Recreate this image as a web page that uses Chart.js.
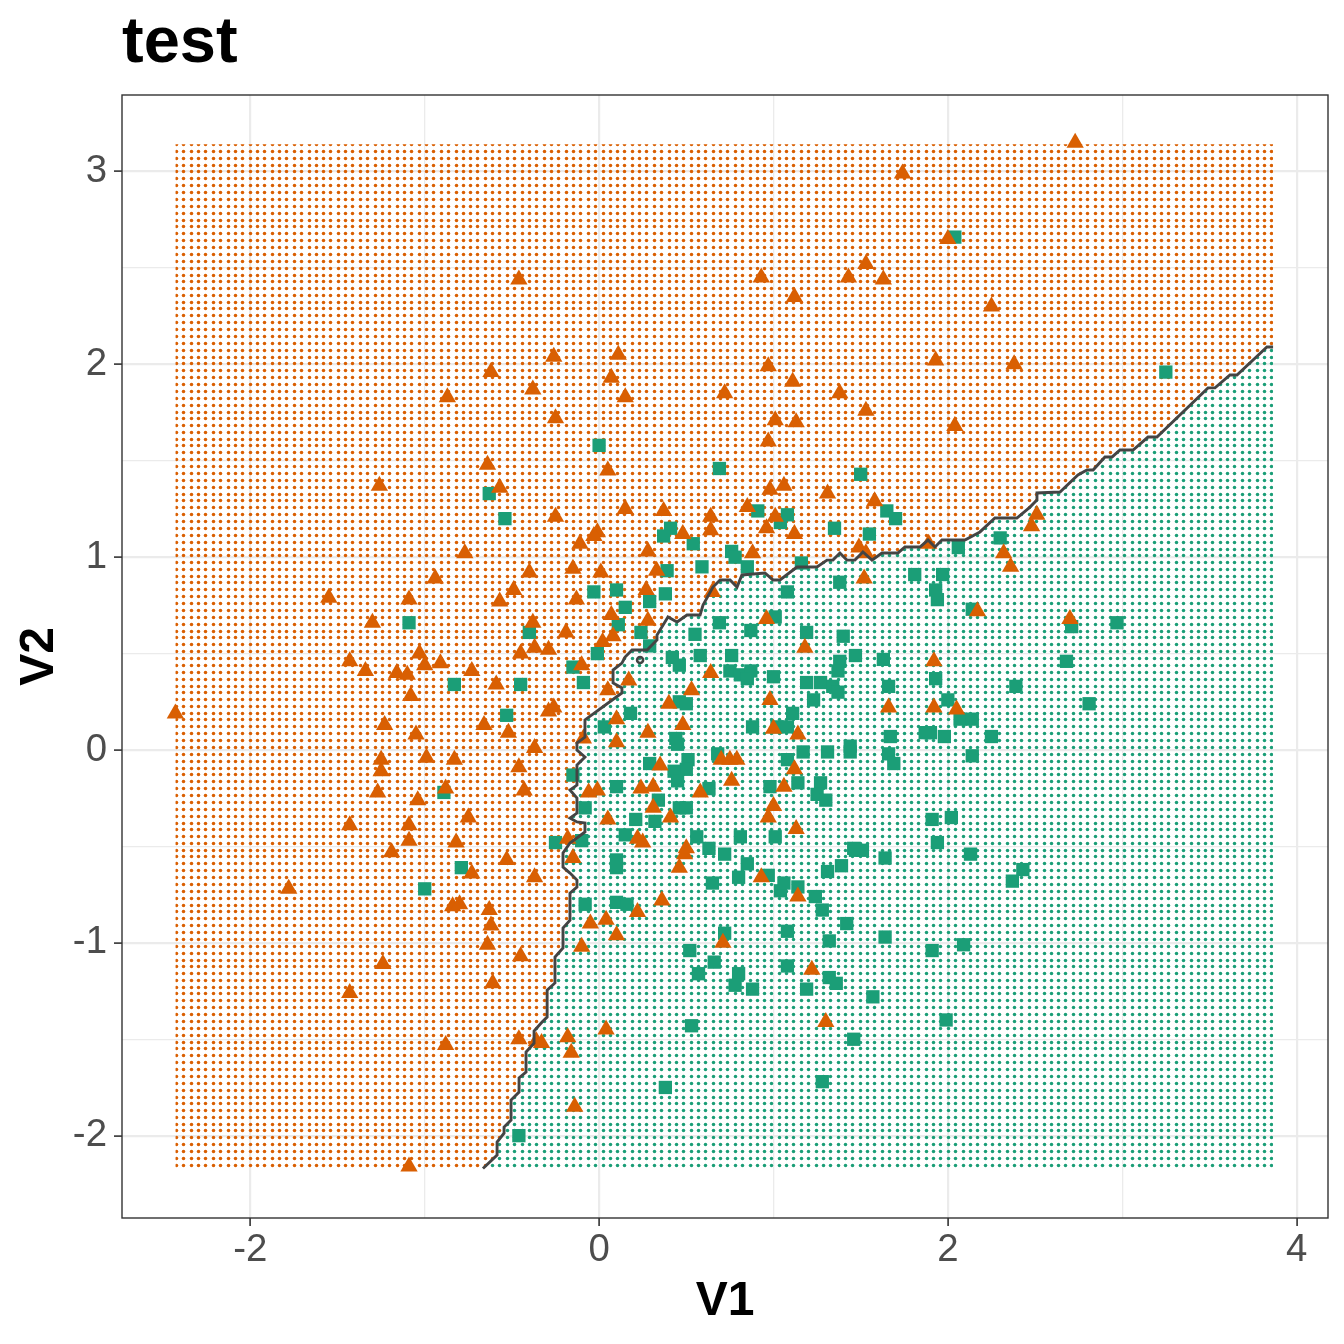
<!DOCTYPE html>
<html>
<head>
<meta charset="utf-8">
<script src="https://cdn.jsdelivr.net/npm/chart.js@4.4.1/dist/chart.umd.min.js"></script>
<style>
  html, body { margin: 0; padding: 0; background: #ffffff; }
  #wrap { width: 1344px; height: 1344px; }
</style>
</head>
<body>
<div id="wrap"><canvas id="plot" width="1344" height="1344"></canvas></div>
<script>
/* globals Chart:false */
(() => {
  'use strict'

  // observations of class 1 (orange triangles), [V1, V2]
  const triangles = [
    [2.73, 3.15], [1.74, 2.99], [2.00, 2.65], [-0.46, 2.44], [0.93, 2.45], [1.53, 2.52],
    [1.43, 2.45], [1.63, 2.44], [1.12, 2.35], [2.25, 2.30], [-0.26, 2.04], [0.11, 2.05],
    [0.07, 1.93], [0.15, 1.83], [0.97, 1.99], [1.11, 1.91], [0.72, 1.85], [1.38, 1.85],
    [1.53, 1.76], [-0.25, 1.72], [1.01, 1.71], [1.13, 1.70], [0.97, 1.60], [1.93, 2.02],
    [0.05, 1.45], [-0.62, 1.96], [-0.87, 1.83], [-0.38, 1.87], [-0.64, 1.48], [2.38, 2.00],
    [2.04, 1.68], [-1.26, 1.37], [-0.57, 1.36], [-0.77, 1.02], [-0.40, 0.92], [-0.94, 0.89],
    [-0.49, 0.83], [-0.57, 0.77], [-1.55, 0.79], [-1.09, 0.78], [-1.30, 0.66], [-0.38, 0.66],
    [-0.37, 0.53], [-0.45, 0.50], [-1.03, 0.50], [-1.43, 0.46], [-1.00, 0.44], [-0.91, 0.45],
    [-1.34, 0.41], [-1.16, 0.40], [-1.10, 0.39], [-0.73, 0.41], [-0.59, 0.34], [-1.08, 0.28],
    [-2.43, 0.19], [-1.23, 0.13], [-0.66, 0.13], [-1.05, 0.08], [-0.52, 0.09], [-0.37, 0.01],
    [-1.25, -0.05], [-1.25, -0.11], [-0.99, -0.04], [-0.83, -0.05], [-0.46, -0.09], [-1.27, -0.22],
    [-0.88, -0.20], [-0.43, -0.21], [-1.04, -0.26], [-0.75, -0.35], [-1.43, -0.39], [-1.09, -0.39],
    [-1.09, -0.47], [-0.82, -0.48], [-1.19, -0.53], [-0.73, -0.64], [-0.53, -0.57], [-0.37, -0.66],
    [-1.78, -0.72], [-0.84, -0.81], [-0.80, -0.80], [-0.63, -0.83], [-0.62, -0.91], [-0.64, -1.01],
    [-0.45, -1.07], [-1.24, -1.11], [-0.61, -1.21], [-1.43, -1.26], [-0.88, -1.53], [-0.46, -1.50],
    [-0.36, -1.51], [-1.09, -2.16], [-0.15, -0.56], [0.49, -0.54], [0.46, -0.61], [0.93, -0.66],
    [1.14, -0.76], [0.36, -0.78], [0.22, -0.84], [0.04, -0.88], [-0.05, -0.90], [0.10, -0.96],
    [-0.10, -1.02], [0.71, -1.00], [1.22, -1.14], [1.30, -1.41], [0.04, -1.45], [-0.18, -1.49],
    [-0.16, -1.57], [-0.33, -1.52], [-0.14, -1.85], [2.51, 1.22], [2.48, 1.16], [2.32, 1.02],
    [2.36, 0.95], [2.17, 0.72], [2.70, 0.68], [1.92, 0.46], [1.92, 0.22], [2.05, 0.21],
    [1.89, 1.07], [0.98, 1.35], [1.06, 1.37], [1.31, 1.33], [1.58, 1.29], [-0.25, 1.21],
    [0.15, 1.25], [0.37, 1.24], [0.64, 1.21], [0.85, 1.26], [1.01, 1.21], [-0.01, 1.13],
    [-0.03, 1.11], [-0.11, 1.07], [0.48, 1.12], [0.64, 1.14], [0.96, 1.15], [1.12, 1.12],
    [0.28, 1.03], [0.88, 1.02], [1.49, 1.05], [1.53, 1.02], [-0.15, 0.94], [0.01, 0.92],
    [0.33, 0.93], [1.52, 0.89], [0.27, 0.83], [-0.13, 0.78], [0.65, 0.82], [0.07, 0.70],
    [0.28, 0.67], [-0.19, 0.61], [0.02, 0.56], [0.08, 0.59], [-0.29, 0.52], [0.96, 0.68],
    [1.18, 0.53], [-0.10, 0.44], [0.17, 0.36], [0.05, 0.31], [0.64, 0.40], [0.53, 0.31],
    [0.98, 0.26], [-0.26, 0.22], [-0.29, 0.20], [0.40, 0.24], [1.66, 0.22], [0.10, 0.16],
    [0.48, 0.13], [0.28, 0.09], [1.00, 0.11], [1.14, 0.08], [-0.09, 0.06], [0.10, 0.04],
    [0.70, -0.05], [0.75, -0.05], [0.79, -0.05], [0.35, -0.08], [1.12, -0.10], [0.76, -0.16],
    [-0.06, -0.22], [-0.01, -0.21], [0.24, -0.20], [0.31, -0.19], [0.58, -0.22], [1.06, -0.19],
    [0.31, -0.30], [1.00, -0.29], [0.05, -0.36], [0.41, -0.35], [0.97, -0.35], [1.13, -0.41],
    [-0.18, -0.46], [0.22, -0.46], [0.25, -0.48], [0.50, -0.51]
  ]

  // observations of class 2 (green squares), [V1, V2]
  const squares = [
    [2.04, 2.66], [3.25, 1.96], [0.00, 1.58], [0.69, 1.46], [1.50, 1.43], [-0.63, 1.33],
    [-0.54, 1.20], [-1.09, 0.66], [-0.40, 0.61], [-0.83, 0.34], [-0.45, 0.34], [-0.53, 0.18],
    [-0.89, -0.22], [-0.79, -0.61], [-1.00, -0.72], [-0.46, -2.00], [-0.08, -0.80], [0.10, -0.79],
    [0.16, -0.80], [0.10, -0.57], [0.10, -0.61], [0.63, -0.51], [0.72, -0.54], [0.85, -0.59],
    [0.65, -0.69], [0.80, -0.66], [0.97, -0.65], [1.04, -0.73], [1.06, -0.69], [1.14, -0.71],
    [1.24, -0.76], [1.28, -0.83], [1.31, -0.63], [1.39, -0.60], [1.47, -0.52], [1.51, -0.52],
    [1.64, -0.56], [1.94, -0.48], [1.42, -0.90], [1.08, -0.94], [1.32, -0.99], [1.64, -0.97],
    [1.91, -1.04], [0.72, -0.95], [0.52, -1.04], [0.66, -1.10], [0.57, -1.16], [0.80, -1.16],
    [0.78, -1.22], [0.88, -1.24], [1.08, -1.12], [1.32, -1.18], [1.36, -1.21], [1.19, -1.24],
    [1.57, -1.28], [0.53, -1.43], [1.46, -1.50], [0.38, -1.75], [1.28, -1.72], [2.13, -0.54],
    [2.43, -0.62], [2.37, -0.68], [2.09, -1.01], [1.99, -1.40], [2.30, 1.10], [2.06, 1.05],
    [1.97, 0.91], [1.93, 0.83], [1.94, 0.78], [2.14, 0.73], [2.71, 0.64], [2.97, 0.66],
    [2.68, 0.46], [1.93, 0.37], [2.39, 0.33], [2.00, 0.26], [2.81, 0.24], [2.07, 0.16],
    [2.14, 0.16], [1.98, 0.07], [2.25, 0.07], [1.90, 0.09], [2.14, -0.03], [2.02, -0.35],
    [1.91, -0.36], [0.91, 1.24], [1.08, 1.22], [1.04, 1.18], [1.65, 1.24], [1.70, 1.20],
    [0.41, 1.15], [0.37, 1.11], [0.54, 1.07], [1.35, 1.15], [1.55, 1.12], [0.76, 1.03],
    [0.78, 1.00], [0.85, 0.95], [0.59, 0.95], [0.39, 0.93], [1.16, 0.97], [1.38, 0.87],
    [1.81, 0.91], [-0.03, 0.82], [0.10, 0.83], [0.38, 0.81], [0.29, 0.77], [0.15, 0.74],
    [1.08, 0.82], [0.11, 0.65], [0.24, 0.61], [0.29, 0.54], [-0.01, 0.50], [-0.15, 0.43],
    [-0.09, 0.35], [0.69, 0.66], [1.01, 0.69], [0.87, 0.62], [0.55, 0.60], [1.19, 0.61],
    [1.40, 0.59], [0.42, 0.48], [0.46, 0.44], [0.58, 0.49], [0.76, 0.49], [0.75, 0.41],
    [0.81, 0.39], [0.87, 0.41], [0.85, 0.37], [1.00, 0.38], [1.47, 0.49], [1.63, 0.47],
    [1.38, 0.46], [1.37, 0.41], [1.66, 0.33], [1.19, 0.35], [1.27, 0.35], [1.34, 0.33],
    [1.23, 0.26], [1.37, 0.30], [0.46, 0.25], [0.50, 0.24], [0.18, 0.19], [0.03, 0.12],
    [1.11, 0.19], [0.88, 0.12], [1.02, 0.12], [1.08, 0.12], [0.44, 0.06], [0.45, 0.03],
    [0.68, -0.02], [1.17, -0.01], [1.31, -0.01], [1.44, 0.02], [1.44, -0.01], [1.67, 0.07],
    [1.66, -0.02], [1.69, -0.07], [1.87, 0.09], [0.51, -0.05], [0.50, -0.10], [0.29, -0.07],
    [0.43, -0.11], [0.45, -0.16], [1.08, -0.05], [1.14, -0.17], [1.27, -0.17], [1.25, -0.23],
    [1.30, -0.26], [-0.15, -0.13], [0.10, -0.19], [0.34, -0.26], [0.63, -0.20], [0.98, -0.19],
    [0.46, -0.30], [0.50, -0.30], [-0.08, -0.30], [0.21, -0.36], [0.32, -0.37], [0.56, -0.45],
    [0.81, -0.45], [1.01, -0.45], [0.15, -0.44], [-0.25, -0.48], [-0.10, -0.47], [1.46, -0.51]
  ]

  // decision boundary (contour), from bottom-left to top-right
  const boundary = [
    [-0.666, -2.170], [-0.585, -2.101], [-0.585, -2.033], [-0.545, -1.987], [-0.545, -1.955],
    [-0.505, -1.919], [-0.505, -1.815], [-0.459, -1.774], [-0.459, -1.701], [-0.419, -1.670],
    [-0.419, -1.566], [-0.373, -1.520], [-0.373, -1.457], [-0.327, -1.411], [-0.298, -1.385],
    [-0.298, -1.245], [-0.253, -1.208], [-0.253, -1.074], [-0.207, -1.027], [-0.207, -0.923],
    [-0.167, -0.882], [-0.167, -0.742], [-0.127, -0.711], [-0.127, -0.674], [-0.167, -0.638],
    [-0.207, -0.607], [-0.207, -0.534], [-0.167, -0.482], [-0.081, -0.425], [-0.081, -0.379],
    [-0.127, -0.373], [-0.167, -0.353], [-0.127, -0.327], [-0.127, -0.249], [-0.167, -0.207],
    [-0.127, -0.182], [-0.127, -0.078], [-0.081, -0.036], [-0.127, 0.000], [-0.127, 0.036],
    [-0.081, 0.067], [-0.081, 0.156], [0.091, 0.270], [0.131, 0.296], [0.131, 0.322],
    [0.080, 0.348], [0.080, 0.415], [0.131, 0.451], [0.149, 0.482], [0.189, 0.519],
    [0.275, 0.519], [0.332, 0.571], [0.332, 0.596], [0.395, 0.690], [0.447, 0.664],
    [0.504, 0.700], [0.579, 0.700], [0.596, 0.752], [0.653, 0.845], [0.694, 0.882],
    [0.751, 0.882], [0.791, 0.845], [0.819, 0.908], [0.951, 0.918], [0.997, 0.882],
    [1.037, 0.882], [1.135, 0.949], [1.249, 0.949], [1.307, 0.985], [1.341, 0.985],
    [1.381, 1.022], [1.421, 0.985], [1.467, 0.985], [1.513, 1.027], [1.565, 0.985],
    [1.622, 1.022], [1.714, 1.022], [1.754, 1.053], [1.840, 1.053], [1.886, 1.089],
    [1.926, 1.053], [1.966, 1.089], [2.098, 1.089], [2.184, 1.131], [2.270, 1.203],
    [2.396, 1.203], [2.471, 1.260], [2.511, 1.297], [2.511, 1.333], [2.643, 1.338],
    [2.746, 1.426], [2.798, 1.452], [2.833, 1.452], [2.901, 1.520], [2.942, 1.520],
    [2.987, 1.556], [3.062, 1.556], [3.148, 1.623], [3.199, 1.623], [3.492, 1.878],
    [3.532, 1.878], [3.618, 1.945], [3.658, 1.945], [3.830, 2.090], [3.865, 2.090]
  ]

  // tiny closed contour around a single grid cell
  const island = [[0.235, 0.467]]

  // prediction grid: extent and number of points per side
  const gridX = [-2.429, 3.865]
  const gridY = [-2.170, 3.141]
  const gridN = 150

  const xTicks = [-2, 0, 2, 4]
  const yTicks = [-2, -1, 0, 1, 2, 3]

  const orange = '#D95F02'
  const green = '#1B9E77'

  const pt = ([x, y]) => ({ x, y })

  // regions: green below the boundary, orange everything else on the grid
  const greenRegion = boundary.map(pt).concat([{ x: gridX[1], y: gridY[0] }])
  const orangeRegion = [{ x: gridX[0], y: gridY[1] }, { x: gridX[0], y: gridY[0] }]
    .concat(boundary.map(pt), [{ x: gridX[1], y: gridY[1] }])

  const patterns = {}
  const dotPattern = (chart, color) => {
    const xs = chart.scales.x
    const ys = chart.scales.y
    if (!xs || !ys || !chart.chartArea) {
      return 'rgba(0,0,0,0)'
    }
    const x0 = xs.getPixelForValue(gridX[0])
    const x1 = xs.getPixelForValue(gridX[1])
    const y0 = ys.getPixelForValue(gridY[1])
    const y1 = ys.getPixelForValue(gridY[0])
    const key = color + x0 + y0 + x1 + y1
    if (patterns[key]) {
      return patterns[key]
    }
    const sx = (x1 - x0) / (gridN - 1)
    const sy = (y1 - y0) / (gridN - 1)
    const reps = 20
    const tile = document.createElement('canvas')
    tile.width = Math.round(reps * sx)
    tile.height = Math.round(reps * sy)
    const t = tile.getContext('2d')
    t.fillStyle = color
    for (let i = 0; i < reps; i++) {
      for (let j = 0; j < reps; j++) {
        t.beginPath()
        t.arc(Math.round(i * sx) + 2.5, Math.round(j * sy) + 2.5, 1.75, 0, Math.PI * 2)
        t.fill()
      }
    }
    const p = chart.ctx.createPattern(tile, 'repeat')
    p.setTransform(new DOMMatrix().translate(Math.round(x0) - 2, Math.round(y0) - 2))
    patterns[key] = p
    return p
  }

  const panelBorder = {
    id: 'panelBorder',
    afterDatasetsDraw(chart) {
      const { ctx, chartArea: a } = chart
      ctx.save()
      ctx.strokeStyle = '#333333'
      ctx.lineWidth = 1.4
      ctx.strokeRect(a.left, a.top, a.right - a.left, a.bottom - a.top)
      ctx.restore()
    }
  }

  Chart.defaults.font.family = "'Liberation Sans', Arial, Helvetica, sans-serif"

  const isMajor = (list, v) => list.some(t => Math.abs(t - v) < 1e-9)

  // eslint-disable-next-line no-unused-vars
  const chart = new Chart(document.getElementById('plot'), {
    type: 'scatter',
    data: {
      datasets: [
        {
          label: 'boundary',
          data: boundary.map(pt),
          showLine: true,
          borderColor: '#444444',
          borderWidth: 2.9,
          pointRadius: 0,
          fill: false,
          tension: 0,
          order: 0
        },
        {
          label: 'island',
          data: island.map(pt),
          pointStyle: 'circle',
          pointRadius: 3,
          pointBorderWidth: 2.6,
          pointBorderColor: '#444444',
          pointBackgroundColor: 'rgba(0,0,0,0)',
          order: 0
        },
        {
          label: 'class 1',
          data: triangles.map(pt),
          pointStyle: 'triangle',
          pointRadius: 10,
          pointBorderWidth: 0,
          pointBackgroundColor: orange,
          order: 1
        },
        {
          label: 'class 2',
          data: squares.map(pt),
          pointStyle: 'rect',
          pointRadius: 9.4,
          pointBorderWidth: 0,
          pointBackgroundColor: green,
          order: 2
        },
        {
          label: 'grid 2',
          data: greenRegion,
          showLine: true,
          borderColor: 'rgba(0,0,0,0)',
          borderWidth: 0,
          pointRadius: 0,
          tension: 0,
          fill: 'shape',
          backgroundColor: ctx => dotPattern(ctx.chart, green),
          order: 3
        },
        {
          label: 'grid 1',
          data: orangeRegion,
          showLine: true,
          borderColor: 'rgba(0,0,0,0)',
          borderWidth: 0,
          pointRadius: 0,
          tension: 0,
          fill: 'shape',
          backgroundColor: ctx => dotPattern(ctx.chart, orange),
          order: 4
        }
      ]
    },
    options: {
      responsive: false,
      animation: false,
      events: [],
      layout: {
        padding: { left: 0, right: 16, top: 0, bottom: 0 }
      },
      plugins: {
        legend: { display: false },
        tooltip: { enabled: false },
        title: {
          display: true,
          text: 'test',
          align: 'start',
          fullSize: false,
          color: '#000000',
          font: { size: 65, weight: 'bold', lineHeight: 1 },
          padding: { top: 12, bottom: 18 }
        }
      },
      scales: {
        x: {
          type: 'linear',
          min: -2.736,
          max: 4.18,
          afterFit: scale => { scale.height = 126 },
          border: { display: false },
          grid: {
            color: '#EBEBEB',
            lineWidth: c => isMajor(xTicks, c.tick.value) ? 2.2 : 1.3,
            tickColor: c => isMajor(xTicks, c.tick.value) ? '#333333' : 'rgba(0,0,0,0)',
            tickWidth: 1.6,
            tickLength: 8
          },
          ticks: {
            stepSize: 1,
            includeBounds: false,
            autoSkip: false,
            maxRotation: 0,
            padding: 1,
            color: '#4D4D4D',
            font: { size: 38.4, lineHeight: 1.2 },
            callback: v => isMajor(xTicks, v) ? String(v) : ''
          },
          title: {
            display: true,
            text: 'V1',
            color: '#000000',
            font: { size: 48, weight: 'bold', lineHeight: 1.2 },
            padding: { top: 0, bottom: 13 }
          }
        },
        y: {
          type: 'linear',
          min: -2.427,
          max: 3.397,
          afterFit: scale => { scale.width = 122 },
          border: { display: false },
          grid: {
            color: '#EBEBEB',
            lineWidth: c => isMajor(yTicks, c.tick.value) ? 2.2 : 1.3,
            tickColor: c => isMajor(yTicks, c.tick.value) ? '#333333' : 'rgba(0,0,0,0)',
            tickWidth: 1.6,
            tickLength: 8
          },
          ticks: {
            stepSize: 0.5,
            includeBounds: false,
            autoSkip: false,
            padding: 7,
            color: '#4D4D4D',
            font: { size: 38.4, lineHeight: 1.2 },
            callback: v => isMajor(yTicks, v) ? String(v) : ''
          },
          title: {
            display: true,
            text: 'V2',
            color: '#000000',
            font: { size: 48, weight: 'bold', lineHeight: 1.2 },
            padding: { top: 11, bottom: 0 }
          }
        }
      }
    },
    plugins: [panelBorder]
  })
})()
</script>
</body>
</html>
